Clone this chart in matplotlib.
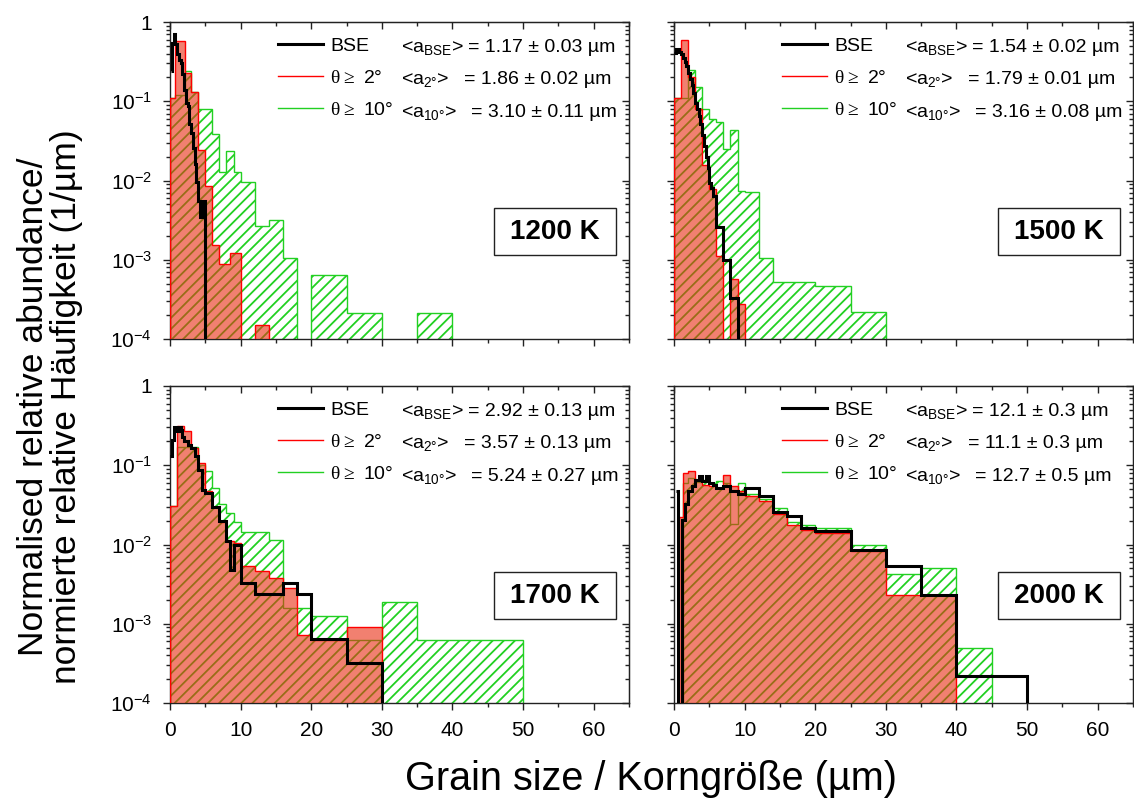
import matplotlib
matplotlib.use('Agg')
import matplotlib.pyplot as plt
from matplotlib.lines import Line2D
from matplotlib.patches import Rectangle
from matplotlib.ticker import MultipleLocator, LogLocator, NullFormatter, FixedFormatter, FixedLocator
import numpy as np

plt.rcParams['font.family'] = ['Liberation Sans', 'DejaVu Sans']
plt.rcParams['mathtext.fontset'] = 'custom'
plt.rcParams['mathtext.rm'] = 'Liberation Sans'
plt.rcParams['mathtext.bf'] = 'Liberation Serif'
plt.rcParams['mathtext.default'] = 'regular'
plt.rcParams['hatch.linewidth'] = 1.3

# ---- 1200 K ----
bse_1200_edges = [0.1, 0.25, 0.5, 0.75, 1.0, 1.25, 1.5, 1.75, 2.0, 2.25, 2.5, 2.75, 3.0,
                  3.25, 3.5, 3.75, 4.0, 4.25, 4.5, 4.9, 5.2]
bse_1200 = [0.24, 0.55, 0.70, 0.53, 0.40, 0.33, 0.30, 0.22, 0.14, 0.096, 0.087, 0.051,
            0.040, 0.026, 0.016, 0.0095, 0.0055, 0.0035, 0.0055, 0]
red_1200_edges = [0, 0.7, 2.1, 3, 4, 5, 6, 7, 8.5, 10, 12, 14]
red_1200 = [0.11, 0.58, 0.23, 0.13, 0.0246, 0.0085, 0.00155, 0.00089, 0.0012, 0, 0.00015]
grn_1200_edges = [0, 0.7, 2.1, 3, 4, 6, 7, 8, 9, 10, 12, 14, 16, 18, 20, 25, 30, 35, 40]
grn_1200 = [0.11, 0.12, 0.24, 0.13, 0.079, 0.039, 0.0129, 0.0235, 0.0129, 0.0096, 0.0027,
            0.0032, 0.00105, 0, 0.00064, 0.00021, 0, 0.00021]

# ---- 1500 K ----
bse_1500_edges = [0, 0.25, 0.5, 0.75, 1.0, 1.25, 1.5, 1.75, 2.0, 2.25, 2.5, 2.75, 3.0, 3.25,
                  3.5, 3.75, 4.0, 4.25, 4.5, 4.75, 5.0, 5.25, 5.5, 6, 7, 8, 9, 9.5]
bse_1500 = [0.41, 0.46, 0.45, 0.42, 0.39, 0.35, 0.31, 0.28, 0.23, 0.19, 0.16, 0.128, 0.096,
            0.079, 0.065, 0.051, 0.038, 0.027, 0.020, 0.0145, 0.0093, 0.008, 0.0063,
            0.0026, 0.001, 0.00033, 0]
red_1500_edges = [0, 1, 2, 3, 4, 5, 6, 7, 8, 9, 10]
red_1500 = [0.11, 0.59, 0.20, 0.079, 0.0155, 0.0077, 0.0011, 0, 0.00057, 0.00028]
grn_1500_edges = [0, 1, 2, 3, 4, 5, 6, 7, 8, 9, 10, 12, 14, 20, 25, 30]
grn_1500 = [0.11, 0.11, 0.25, 0.15, 0.079, 0.059, 0.055, 0.025, 0.044, 0.0074, 0.0072,
            0.00105, 0.00053, 0.00046, 0.00022]

# ---- 1700 K ----
bse_1700_edges = [0, 0.25, 0.5, 0.75, 1.0, 1.25, 1.5, 1.75, 2.0, 2.5, 3.0, 3.5, 4.0, 4.5, 5,
                  6, 7, 8, 8.5, 9, 10, 12, 14, 16, 18, 20, 25, 30, 31]
bse_1700 = [0.13, 0.21, 0.30, 0.30, 0.27, 0.30, 0.28, 0.23, 0.20, 0.18, 0.166, 0.13, 0.088,
            0.049, 0.045, 0.030, 0.020, 0.011, 0.0048, 0.0098, 0.0033, 0.0024, 0.0024,
            0.0033, 0.0024, 0.00065, 0.00032, 0]
red_1700_edges = [0, 1, 2, 3, 4, 5, 6, 7, 8, 9, 10, 12, 14, 16, 18, 20, 25, 30]
red_1700 = [0.031, 0.31, 0.27, 0.166, 0.107, 0.047, 0.030, 0.0195, 0.011, 0.0105, 0.0053,
            0.0046, 0.0038, 0.0028, 0.00072, 0.00063, 0.00092]
grn_1700_edges = [0, 1, 2, 3, 4, 5, 6, 7, 8, 9, 10, 12, 14, 16, 18, 20, 25, 30, 35, 50]
grn_1700 = [0.031, 0.17, 0.17, 0.17, 0.10, 0.085, 0.052, 0.032, 0.025, 0.019, 0.0145,
            0.0145, 0.0115, 0.0016, 0.0016, 0.00124, 0.00062, 0.0019, 0.00062]

# ---- 2000 K ----
bse_2000_edges = [0.3, 0.5, 1.2, 1.5, 2.0, 2.5, 3.0, 3.5, 4.0, 4.5, 5.0, 5.5, 6, 7, 8, 9, 10,
                  12, 14, 16, 18, 20, 25, 30, 35, 40, 50, 51]
bse_2000 = [0.047, 0, 0.0205, 0.032, 0.047, 0.054, 0.066, 0.073, 0.063, 0.073, 0.060, 0.057,
            0.052, 0.054, 0.047, 0.043, 0.052, 0.041, 0.026, 0.0226, 0.016, 0.0146, 0.0086,
            0.0053, 0.0023, 0.00022, 0]
red_2000_edges = [0.75, 1.25, 2, 3, 4, 5, 6, 7, 8, 9, 10, 12, 14, 16, 18, 20, 25, 30, 35, 40]
red_2000 = [0.022, 0.08, 0.084, 0.066, 0.057, 0.054, 0.052, 0.076, 0.054, 0.047, 0.041,
            0.035, 0.024, 0.0177, 0.0154, 0.0139, 0.0082, 0.0023, 0.0023]
grn_2000_edges = [1.25, 2, 3, 4, 5, 6, 7, 8, 9, 10, 12, 14, 16, 18, 20, 25, 30, 35, 40, 45]
grn_2000 = [0.06, 0.07, 0.062, 0.065, 0.06, 0.063, 0.06, 0.018, 0.06, 0.043, 0.038, 0.029,
            0.019, 0.0174, 0.016, 0.0098, 0.0042, 0.005, 0.0005]

temps = ['1200 K', '1500 K', '1700 K', '2000 K']
mean_bse = ['1.17 ± 0.03 µm', '1.54 ± 0.02 µm', '2.92 ± 0.13 µm', '12.1 ± 0.3 µm']
mean_2 = ['1.86 ± 0.02 µm', '1.79 ± 0.01 µm', '3.57 ± 0.13 µm', '11.1 ± 0.3 µm']
mean_10 = ['3.10 ± 0.11 µm', '3.16 ± 0.08 µm', '5.24 ± 0.27 µm', '12.7 ± 0.5 µm']

panels = [
    (bse_1200_edges, bse_1200, red_1200_edges, red_1200, grn_1200_edges, grn_1200),
    (bse_1500_edges, bse_1500, red_1500_edges, red_1500, grn_1500_edges, grn_1500),
    (bse_1700_edges, bse_1700, red_1700_edges, red_1700, grn_1700_edges, grn_1700),
    (bse_2000_edges, bse_2000, red_2000_edges, red_2000, grn_2000_edges, grn_2000),
]

GREEN = '#22D022'
RED_FACE = (233 / 255, 43 / 255, 17 / 255, 0.6)
SPINE = '#222222'

fig = plt.figure(figsize=(11.34, 8.01), dpi=100)
W = 459 / 1134
H = 317 / 801
lefts = [170 / 1134, 674 / 1134]
bottoms = [(801 - 339) / 801, (801 - 703) / 801]

for i, (be, bv, re, rv, ge, gv) in enumerate(panels):
    row, col = divmod(i, 2)
    ax = fig.add_axes([lefts[col], bottoms[row], W, H])
    ax.set_yscale('log')

    ax.stairs(gv, ge, fill=True, baseline=1e-6, facecolor='none', edgecolor=GREEN,
              hatch='///', linewidth=1.0, zorder=2)
    ax.stairs(rv, re, fill=True, baseline=1e-6, facecolor=RED_FACE, edgecolor='red',
              linewidth=1.0, zorder=3)
    ax.stairs(bv, be, baseline=None, color='black', linewidth=2.2, zorder=4)

    ax.set_xlim(0, 65)
    ax.set_ylim(1e-4, 1)
    for s in ax.spines.values():
        s.set_color(SPINE)
        s.set_linewidth(1.0)

    ax.xaxis.set_major_locator(MultipleLocator(10))
    ax.xaxis.set_minor_locator(MultipleLocator(5))
    ax.yaxis.set_major_locator(FixedLocator([1e-4, 1e-3, 1e-2, 1e-1, 1]))
    ax.yaxis.set_minor_locator(LogLocator(10, subs=np.arange(2, 10), numticks=10))
    ax.yaxis.set_minor_formatter(NullFormatter())
    ax.tick_params(which='major', direction='out', length=5, width=1, color=SPINE,
                   labelsize=15, pad=8)
    ax.tick_params(which='minor', direction='out', length=3, width=1, color=SPINE)
    if col == 0:
        ax.yaxis.set_major_formatter(FixedFormatter(
            ['10$^{-4}$', '10$^{-3}$', '10$^{-2}$', '10$^{-1}$', '1']))
    else:
        ax.yaxis.set_major_formatter(NullFormatter())
    if row == 0:
        ax.xaxis.set_major_formatter(NullFormatter())

    sx = ax.secondary_xaxis('top')
    sx.xaxis.set_major_locator(MultipleLocator(10))
    sx.xaxis.set_minor_locator(MultipleLocator(5))
    sx.xaxis.set_major_formatter(NullFormatter())
    sx.tick_params(which='major', direction='in', length=5, width=1, color=SPINE)
    sx.tick_params(which='minor', direction='in', length=3, width=1, color=SPINE)
    sy = ax.secondary_yaxis('right')
    sy.yaxis.set_major_locator(FixedLocator([1e-4, 1e-3, 1e-2, 1e-1, 1]))
    sy.yaxis.set_minor_locator(LogLocator(10, subs=np.arange(2, 10), numticks=10))
    sy.yaxis.set_major_formatter(NullFormatter())
    sy.yaxis.set_minor_formatter(NullFormatter())
    sy.tick_params(which='major', direction='in', length=5, width=1, color=SPINE)
    sy.tick_params(which='minor', direction='in', length=3, width=1, color=SPINE)
    for s in list(sx.spines.values()) + list(sy.spines.values()):
        s.set_color(SPINE)

    handles = [Line2D([], [], color='black', lw=2.2),
               Line2D([], [], color='red', lw=1.0),
               Line2D([], [], color=GREEN, lw=1.0)]
    labels = ['BSE', r'$\mathbf{\theta\geq}$ 2°', r'$\mathbf{\theta\geq}$ 10°']
    ax.legend(handles, labels, loc='upper left', bbox_to_anchor=(0.235, 0.953),
              frameon=False, fontsize=14, handlelength=2.3, handletextpad=0.4,
              labelspacing=0.76, borderpad=0, borderaxespad=0)

    subs = [r'<a$_{BSE}$>', r'<a$_{2°}$>', r'<a$_{10°}$>']
    vals = [mean_bse[i], mean_2[i], mean_10[i]]
    eq_x = [0.650, 0.640, 0.656]
    for k, (s, v) in enumerate(zip(subs, vals)):
        y = 0.906 - 0.1025 * k
        ax.text(0.503, y, s, transform=ax.transAxes, fontsize=14, va='baseline')
        ax.text(eq_x[k], y, '= ' + v, transform=ax.transAxes, fontsize=14, va='baseline')

    ax.add_patch(Rectangle((0.706, 0.264), 0.266, 0.148, transform=ax.transAxes,
                           facecolor='white', edgecolor=SPINE, linewidth=1.0, zorder=5))
    ax.text(0.839, 0.338, temps[i], transform=ax.transAxes, ha='center', va='center',
            fontsize=20, fontweight='bold', zorder=6)

fig.text(0.574, 0.014, 'Grain size / Korngröße (µm)', ha='center', va='baseline', fontsize=28.5)
fig.text(0.044, 0.492, 'Normalised relative abundance/\nnormierte relative Häufigkeit (1/µm)',
         rotation=90, ha='center', va='center', multialignment='center', fontsize=25.5,
         linespacing=1.0)

fig.savefig('out.png', dpi=100)
